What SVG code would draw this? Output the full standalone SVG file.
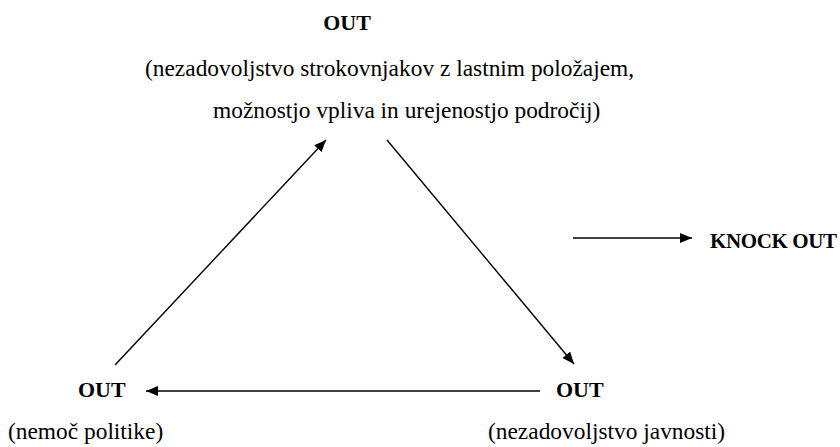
<svg xmlns="http://www.w3.org/2000/svg" width="840" height="447" viewBox="0 0 840 447">
  <defs>
    <marker id="ah" markerUnits="userSpaceOnUse" markerWidth="13" markerHeight="11" refX="12" refY="5" orient="auto">
      <path d="M0,0 L12,5 L0,10 z" fill="#000"/>
    </marker>
  </defs>
  <rect width="840" height="447" fill="#fff"/>
  <g id="top">
    <text font-family="Liberation Serif" font-weight="bold" font-size="22" x="347" y="30" text-anchor="middle">OUT</text>
    <text font-family="Liberation Serif" font-size="23.4" x="145" y="76">(nezadovoljstvo strokovnjakov z lastnim položajem,</text>
    <text font-family="Liberation Serif" font-size="23.4" x="213" y="118">možnostjo vpliva in urejenostjo področij)</text>
  </g>
  <g id="left">
    <text font-family="Liberation Serif" font-weight="bold" font-size="22" x="78" y="397">OUT</text>
    <text font-family="Liberation Serif" font-size="23.4" x="8" y="439">(nemoč politike)</text>
  </g>
  <g id="right">
    <text font-family="Liberation Serif" font-weight="bold" font-size="22" x="556" y="397">OUT</text>
    <text font-family="Liberation Serif" font-size="23.4" x="488" y="439">(nezadovoljstvo javnosti)</text>
  </g>
  <g id="knockout">
    <text font-family="Liberation Serif" font-weight="bold" font-size="21" x="710" y="248" textLength="127">KNOCK OUT</text>
  </g>
  <g id="connectors" stroke="#000" stroke-width="1.4" fill="none" marker-end="url(#ah)">
    <line x1="115" y1="365" x2="326" y2="140"/>
    <line x1="387" y1="140" x2="574" y2="364"/>
    <line x1="540" y1="391" x2="146" y2="391"/>
    <line x1="573" y1="238" x2="692" y2="238"/>
  </g>
</svg>
